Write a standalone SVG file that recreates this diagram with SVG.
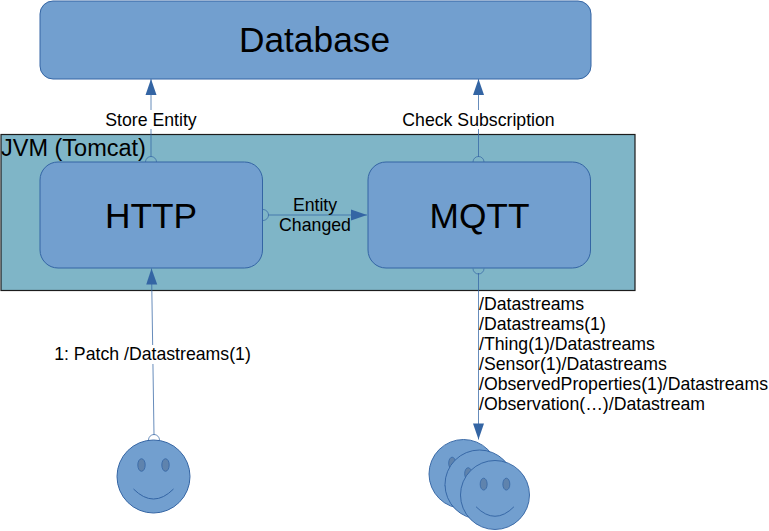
<svg xmlns="http://www.w3.org/2000/svg" width="769" height="531" viewBox="0 0 769 531">
<defs>
<style>
text{font-family:"Liberation Sans",Arial,sans-serif;fill:#000}
.box{fill:#729fcf;stroke:#3465a4;stroke-width:1}
.l{font-size:17.700px;text-anchor:middle}
.r{font-size:17.700px}
.big{font-size:35.300px;text-anchor:middle}
.c{fill:none;stroke:#3465a4;stroke-width:1;stroke-opacity:.75}
.o{fill:none;stroke:#3465a4;stroke-width:1;stroke-opacity:.7}
.e{fill:#5f83ad;stroke:#3465a4;stroke-width:.8}
.m{fill:none;stroke:#3465a4;stroke-width:1}
.bg{fill:#fff}
</style>
<marker id="a" markerUnits="userSpaceOnUse" markerWidth="16" markerHeight="11" refX="16" refY="5.500" orient="auto" viewBox="0 0 16 11" overflow="visible"><path d="M0 0L16 5.500L0 11Z" fill="#3465a4"/></marker>
<g id="face"><circle cx="0" cy="0" r="36.500" class="box"/><ellipse cx="-12" cy="-11.500" rx="3.700" ry="6.300" class="e"/><ellipse cx="12" cy="-11.500" rx="3.700" ry="6.300" class="e"/><path d="M-20 12.500Q0 32.500 20 12.500" class="m"/></g>
</defs>
<g id="jvm"><rect x="1" y="134.500" width="634" height="156" fill="#7fb5c7" stroke="#1c1c1c" stroke-width="1.200"/><text x="1" y="156" font-size="23.500">JVM (Tomcat)</text></g>
<g id="database"><rect x="40" y="1" width="551" height="78" rx="13" class="box"/><text x="314.500" y="52" class="big">Database</text></g>
<g id="connectors">
<path class="c" d="M151 157V79" marker-end="url(#a)"/>
<path class="c" d="M478.500 157V79" marker-end="url(#a)"/>
<path class="c" d="M268 215H367" marker-end="url(#a)"/>
<path class="c" d="M154 435L151.500 268.500" marker-end="url(#a)"/>
<path class="c" d="M478.500 273V439.500" marker-end="url(#a)"/>
<path class="o" d="M145.500 162A5.500 5.500 0 0 1 156.500 162"/>
<path class="o" d="M473 162A5.500 5.500 0 0 1 484 162"/>
<path class="o" d="M263 209.500A5.500 5.500 0 0 1 263 220.500"/>
<path class="o" d="M473 268.500A5.500 5.500 0 0 0 484 268.500"/>
<path class="o" d="M148.500 440A5.500 5.500 0 0 1 159.500 440"/>
<rect class="bg" x="104" y="110" width="94" height="19"/>
<rect class="bg" x="401" y="110" width="156" height="19"/>
<rect class="bg" x="52" y="345" width="200" height="19"/>
</g>
<g id="labels">
<text x="151" y="126" class="l">Store Entity</text>
<text x="478.500" y="126" class="l">Check Subscription</text>
<text x="315" y="211" class="l">Entity</text>
<text x="315" y="231" class="l">Changed</text>
<text x="152.500" y="360" class="l">1: Patch /Datastreams(1)</text>
<text x="479" y="310" class="r">/Datastreams</text>
<text x="479" y="330" class="r">/Datastreams(1)</text>
<text x="479" y="350" class="r">/Thing(1)/Datastreams</text>
<text x="479" y="370" class="r">/Sensor(1)/Datastreams</text>
<text x="479" y="390" class="r">/ObservedProperties(1)/Datastreams</text>
<text x="479" y="409.500" class="r">/Observation(…)/Datastream</text>
</g>
<g id="http"><rect x="40" y="162" width="222.500" height="106" rx="18" class="box"/><text x="151" y="228" class="big">HTTP</text></g>
<g id="mqtt"><rect x="368" y="162" width="222.500" height="106" rx="18" class="box"/><text x="479.500" y="228" class="big">MQTT</text></g>
<g id="client"><use href="#face" transform="translate(153.500 476.500)"/></g>
<g id="subscribers"><use href="#face" transform="translate(463.500 474) scale(.945)"/><use href="#face" transform="translate(479.500 484.500) scale(.945)"/><use href="#face" transform="translate(495 495) scale(.945)"/></g>
</svg>
